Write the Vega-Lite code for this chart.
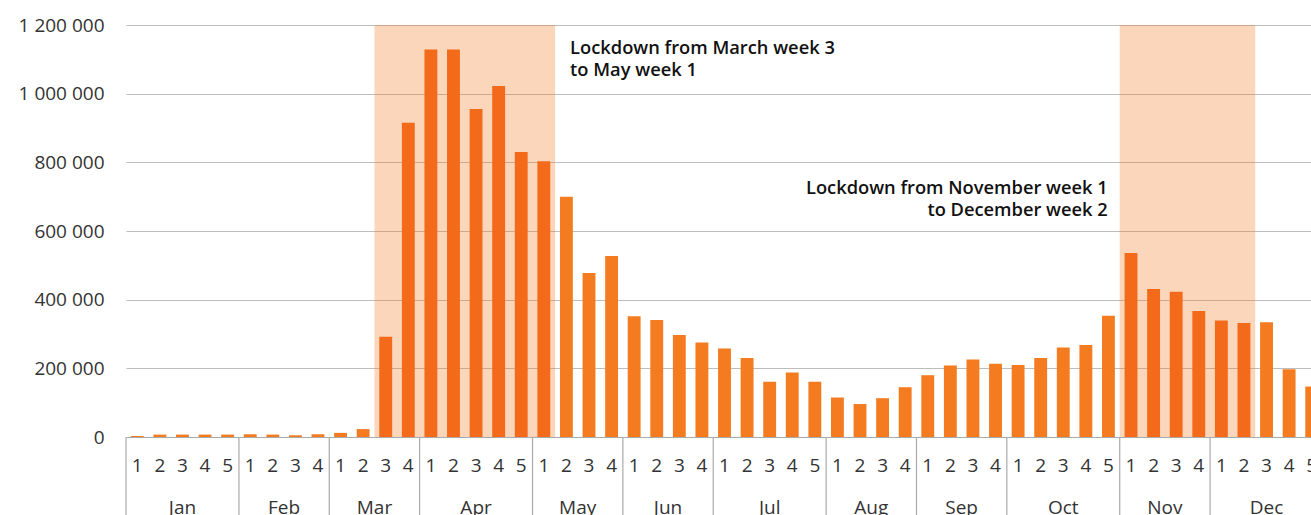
{
  "$schema": "https://vega.github.io/schema/vega-lite/v6.json",
  "autosize": {"type": "none"},
  "width": 1185,
  "height": 412,
  "padding": {"left": 126, "top": 25, "right": 0, "bottom": 78},
  "background": "white",
  "config": {
    "view": {"stroke": null},
    "font": "Open Sans",
    "text": {"font": "Open Sans"}
  },
  "datasets": {
    "weeks": [
      {"i":1,"m":"Jan","w":1,"v":3000,"ld":0},
      {"i":2,"m":"Jan","w":2,"v":7000,"ld":0},
      {"i":3,"m":"Jan","w":3,"v":7000,"ld":0},
      {"i":4,"m":"Jan","w":4,"v":7000,"ld":0},
      {"i":5,"m":"Jan","w":5,"v":7000,"ld":0},
      {"i":6,"m":"Feb","w":1,"v":8000,"ld":0},
      {"i":7,"m":"Feb","w":2,"v":7000,"ld":0},
      {"i":8,"m":"Feb","w":3,"v":5000,"ld":0},
      {"i":9,"m":"Feb","w":4,"v":8000,"ld":0},
      {"i":10,"m":"Mar","w":1,"v":12000,"ld":0},
      {"i":11,"m":"Mar","w":2,"v":23000,"ld":0},
      {"i":12,"m":"Mar","w":3,"v":292000,"ld":1},
      {"i":13,"m":"Mar","w":4,"v":915000,"ld":1},
      {"i":14,"m":"Apr","w":1,"v":1129000,"ld":1},
      {"i":15,"m":"Apr","w":2,"v":1129000,"ld":1},
      {"i":16,"m":"Apr","w":3,"v":955000,"ld":1},
      {"i":17,"m":"Apr","w":4,"v":1022000,"ld":1},
      {"i":18,"m":"Apr","w":5,"v":830000,"ld":1},
      {"i":19,"m":"May","w":1,"v":803000,"ld":1},
      {"i":20,"m":"May","w":2,"v":700000,"ld":0},
      {"i":21,"m":"May","w":3,"v":478000,"ld":0},
      {"i":22,"m":"May","w":4,"v":527000,"ld":0},
      {"i":23,"m":"Jun","w":1,"v":352000,"ld":0},
      {"i":24,"m":"Jun","w":2,"v":341000,"ld":0},
      {"i":25,"m":"Jun","w":3,"v":297000,"ld":0},
      {"i":26,"m":"Jun","w":4,"v":275000,"ld":0},
      {"i":27,"m":"Jul","w":1,"v":258000,"ld":0},
      {"i":28,"m":"Jul","w":2,"v":230000,"ld":0},
      {"i":29,"m":"Jul","w":3,"v":161000,"ld":0},
      {"i":30,"m":"Jul","w":4,"v":188000,"ld":0},
      {"i":31,"m":"Jul","w":5,"v":161000,"ld":0},
      {"i":32,"m":"Aug","w":1,"v":115000,"ld":0},
      {"i":33,"m":"Aug","w":2,"v":96000,"ld":0},
      {"i":34,"m":"Aug","w":3,"v":113000,"ld":0},
      {"i":35,"m":"Aug","w":4,"v":145000,"ld":0},
      {"i":36,"m":"Sep","w":1,"v":180000,"ld":0},
      {"i":37,"m":"Sep","w":2,"v":208000,"ld":0},
      {"i":38,"m":"Sep","w":3,"v":226000,"ld":0},
      {"i":39,"m":"Sep","w":4,"v":213000,"ld":0},
      {"i":40,"m":"Oct","w":1,"v":210000,"ld":0},
      {"i":41,"m":"Oct","w":2,"v":230000,"ld":0},
      {"i":42,"m":"Oct","w":3,"v":261000,"ld":0},
      {"i":43,"m":"Oct","w":4,"v":268000,"ld":0},
      {"i":44,"m":"Oct","w":5,"v":353000,"ld":0},
      {"i":45,"m":"Nov","w":1,"v":536000,"ld":1},
      {"i":46,"m":"Nov","w":2,"v":431000,"ld":1},
      {"i":47,"m":"Nov","w":3,"v":423000,"ld":1},
      {"i":48,"m":"Nov","w":4,"v":367000,"ld":1},
      {"i":49,"m":"Dec","w":1,"v":339000,"ld":1},
      {"i":50,"m":"Dec","w":2,"v":332000,"ld":1},
      {"i":51,"m":"Dec","w":3,"v":334000,"ld":0},
      {"i":52,"m":"Dec","w":4,"v":197000,"ld":0},
      {"i":53,"m":"Dec","w":5,"v":147000,"ld":0}
    ],
    "months": [
      {"m":"Jan","i":1,"c":3,"n":5},
      {"m":"Feb","i":6,"c":7,"n":4},
      {"m":"Mar","i":10,"c":11,"n":4},
      {"m":"Apr","i":14,"c":16,"n":5},
      {"m":"May","i":19,"c":20,"n":4},
      {"m":"Jun","i":23,"c":24,"n":4},
      {"m":"Jul","i":27,"c":29,"n":5},
      {"m":"Aug","i":32,"c":33,"n":4},
      {"m":"Sep","i":36,"c":37,"n":4},
      {"m":"Oct","i":40,"c":42,"n":5},
      {"m":"Nov","i":45,"c":46,"n":4},
      {"m":"Dec","i":49,"c":51,"n":5}
    ],
    "periods": [
      {"s":12,"e":19},
      {"s":45,"e":50}
    ],
    "notes": [
      {"t":"Lockdown from March week 3","i":19,"y":1115500,"side":"left"},
      {"t":"to May week 1","i":19,"y":1051500,"side":"left"},
      {"t":"Lockdown from November week 1","i":45,"y":708000,"side":"right"},
      {"t":"to December week 2","i":45,"y":643700,"side":"right"}
    ]
  },
  "layer": [
    {
      "data": {"name": "periods"},
      "mark": {"type": "rect", "color": "#F47B20", "opacity": 0.31},
      "encoding": {
        "x": {"field": "s", "type": "ordinal", "bandPosition": 0,
              "scale": {"domain": [1,2,3,4,5,6,7,8,9,10,11,12,13,14,15,16,17,18,19,20,21,22,23,24,25,26,27,28,29,30,31,32,33,34,35,36,37,38,39,40,41,42,43,44,45,46,47,48,49,50,51,52,53],
                        "range": [0, 1197], "paddingInner": 0, "paddingOuter": 0},
              "axis": {"title": null, "labels": false, "ticks": false, "grid": false, "domain": true, "domainColor": "#aaaaaa", "domainWidth": 1.2}},
        "x2": {"field": "e", "bandPosition": 1},
        "y": {"datum": 1200000, "type": "quantitative",
              "scale": {"domain": [0, 1200000], "nice": false},
              "axis": {"title": null, "values": [0,200000,400000,600000,800000,1000000,1200000],
                       "labelExpr": "replace(format(datum.value, ','), regexp(',', 'g'), ' ')",
                       "grid": true, "gridColor": "#bdbdbd", "gridWidth": 1.2,
                       "domain": false, "ticks": false, "labelPadding": 22,
                       "labelFontSize": 19, "labelColor": "#333333", "labelFont": "Open Sans"}},
        "y2": {"datum": 0}
      }
    },
    {
      "data": {"name": "weeks"},
      "mark": {"type": "bar", "width": {"band": 0.57}},
      "encoding": {
        "x": {"field": "i", "type": "ordinal"},
        "y": {"field": "v", "type": "quantitative"},
        "color": {"field": "ld", "type": "nominal", "scale": {"domain": [0, 1], "range": ["#F47B20", "#F26A1A"]}, "legend": null}
      }
    },
    {
      "data": {"name": "months"},
      "mark": {"type": "rule", "color": "#aaaaaa", "strokeWidth": 1.2},
      "encoding": {
        "x": {"field": "i", "type": "ordinal", "bandPosition": 0},
        "y": {"datum": 0},
        "y2": {"datum": -240000}
      }
    },
    {
      "data": {"name": "weeks"},
      "mark": {"type": "text", "baseline": "middle", "dy": 29, "fontSize": 19, "color": "#333333"},
      "encoding": {
        "x": {"field": "i", "type": "ordinal"},
        "y": {"datum": 0},
        "text": {"field": "w", "type": "nominal"}
      }
    },
    {
      "data": {"name": "months"},
      "transform": [{"filter": "datum.n == 5"}],
      "mark": {"type": "text", "baseline": "middle", "dy": 71, "fontSize": 19, "color": "#333333"},
      "encoding": {
        "x": {"field": "c", "type": "ordinal", "bandPosition": 0.5},
        "y": {"datum": 0},
        "text": {"field": "m", "type": "nominal"}
      }
    },
    {
      "data": {"name": "months"},
      "transform": [{"filter": "datum.n == 4"}],
      "mark": {"type": "text", "baseline": "middle", "dy": 71, "fontSize": 19, "color": "#333333"},
      "encoding": {
        "x": {"field": "c", "type": "ordinal", "bandPosition": 1},
        "y": {"datum": 0},
        "text": {"field": "m", "type": "nominal"}
      }
    },
    {
      "data": {"name": "notes"},
      "transform": [{"filter": "datum.side == 'left'"}],
      "mark": {"type": "text", "align": "left", "baseline": "alphabetic", "dx": 15, "fontSize": 18.3, "fontWeight": 600, "color": "#111111"},
      "encoding": {
        "x": {"field": "i", "type": "ordinal", "bandPosition": 1},
        "y": {"field": "y", "type": "quantitative"},
        "text": {"field": "t", "type": "nominal"}
      }
    },
    {
      "data": {"name": "notes"},
      "transform": [{"filter": "datum.side == 'right'"}],
      "mark": {"type": "text", "align": "right", "baseline": "alphabetic", "dx": -12, "fontSize": 18.3, "fontWeight": 600, "color": "#111111"},
      "encoding": {
        "x": {"field": "i", "type": "ordinal", "bandPosition": 0},
        "y": {"field": "y", "type": "quantitative"},
        "text": {"field": "t", "type": "nominal"}
      }
    }
  ]
}
